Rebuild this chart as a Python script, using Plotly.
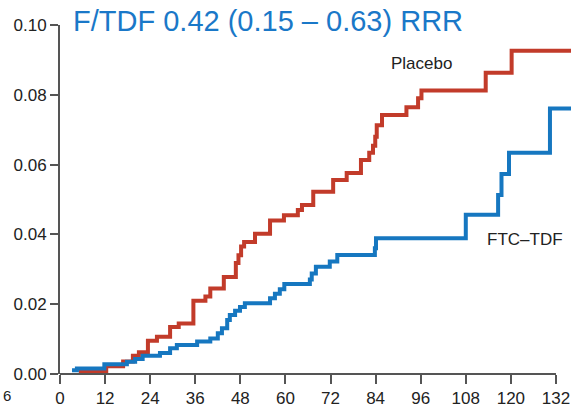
import plotly.graph_objects as go

# Cumulative incidence over time (months), step curves
placebo_months = [5.0, 12.3, 16.8, 19.4, 21.0, 23.4, 25.8, 29.3, 31.6, 35.5, 38.7, 40.0,
                  43.6, 46.8, 47.5, 48.2, 49.0, 51.9, 55.9, 59.6, 63.3, 64.4, 67.4, 72.7,
                  76.3, 80.1, 82.3, 83.3, 83.9, 84.3, 85.7, 92.2, 95.3, 96.2, 113.3, 120.2, 136.0]
placebo_risk = [0.0008, 0.0022, 0.0036, 0.0052, 0.0062, 0.0095, 0.0107, 0.0135, 0.0145, 0.0210, 0.0222, 0.0245,
                0.0278, 0.0318, 0.0340, 0.0365, 0.0378, 0.0402, 0.0440, 0.0455, 0.0470, 0.0484, 0.0522, 0.0556,
                0.0576, 0.0613, 0.0634, 0.0654, 0.0680, 0.0713, 0.0742, 0.0764, 0.0790, 0.0812, 0.0863, 0.0926, 0.0926]

ftc_months = [3.2, 4.5, 11.8, 17.8, 20.0, 22.0, 26.6, 29.3, 31.1, 36.5, 40.0, 42.0, 43.1, 44.5,
              45.2, 46.6, 47.9, 49.2, 55.9, 57.2, 58.5, 59.7, 66.5, 67.0, 68.1, 71.8, 73.8, 83.8,
              84.1, 108.0, 116.6, 117.5, 119.5, 130.4, 136.0]
ftc_risk = [0.0011, 0.0016, 0.0028, 0.0035, 0.0043, 0.0052, 0.0060, 0.0074, 0.0083, 0.0093, 0.0102, 0.0117, 0.0131, 0.0155,
            0.0169, 0.0181, 0.0192, 0.0203, 0.0217, 0.0230, 0.0243, 0.0258, 0.0271, 0.0288, 0.0307, 0.0322, 0.0341, 0.0360,
            0.0389, 0.0456, 0.0513, 0.0573, 0.0634, 0.0761, 0.0761]

x_ticks = [0, 12, 24, 36, 48, 60, 72, 84, 96, 108, 120, 132]
y_ticks = [0.00, 0.02, 0.04, 0.06, 0.08, 0.10]

RED = "#c23b2a"
BLUE = "#1677c0"
AXIS = "#555555"
FONT = "Liberation Sans"

fig = go.Figure()
fig.add_trace(go.Scatter(x=placebo_months, y=placebo_risk, mode="lines",
                         line=dict(color=RED, width=4, shape="hv"), name="Placebo"))
fig.add_trace(go.Scatter(x=ftc_months, y=ftc_risk, mode="lines",
                         line=dict(color=BLUE, width=4, shape="hv"), name="FTC–TDF"))

fig.update_layout(
    width=571, height=408,
    margin=dict(l=60, r=0, t=25, b=34),
    plot_bgcolor="white", paper_bgcolor="white",
    showlegend=False,
    font=dict(family=FONT, size=17, color="#222222"),
    xaxis=dict(range=[0, 136], tickvals=x_ticks, ticks="outside", ticklen=9, tickwidth=1.5,
               tickcolor=AXIS, showgrid=False, zeroline=False, showline=False,
               tickfont=dict(family=FONT, size=17, color="#222222")),
    yaxis=dict(range=[0, 0.10], tickvals=y_ticks, tickformat=".2f", ticks="outside", ticklen=8,
               tickwidth=1.5, tickcolor=AXIS, showgrid=False, zeroline=False, showline=True,
               linecolor=AXIS, linewidth=2,
               tickfont=dict(family=FONT, size=17, color="#222222")),
)

# x-axis baseline stops at the last tick
fig.add_shape(type="line", xref="x", yref="paper", x0=0, x1=132, y0=0, y1=0,
              line=dict(color=AXIS, width=2))

fig.add_annotation(text="F/TDF 0.42 (0.15 – 0.63) RRR", xref="paper", yref="paper",
                   x=0.0215, y=1.012, xanchor="left", yanchor="middle", showarrow=False,
                   font=dict(family=FONT, size=29, color="#1a78c8"))
fig.add_annotation(text="Placebo", xref="x", yref="y", x=96.1, y=0.0891,
                   xanchor="center", yanchor="middle", showarrow=False,
                   font=dict(family=FONT, size=17, color="#222222"))
fig.add_annotation(text="FTC–TDF", xref="x", yref="y", x=123.7, y=0.0384,
                   xanchor="center", yanchor="middle", showarrow=False,
                   font=dict(family=FONT, size=17, color="#222222"))
# small label at the lower left edge
fig.add_annotation(text="6", xref="paper", yref="paper", x=-0.1155, y=-0.063,
                   xanchor="left", yanchor="middle", showarrow=False,
                   font=dict(family=FONT, size=15, color="#222222"))

fig.write_html("out.html")
